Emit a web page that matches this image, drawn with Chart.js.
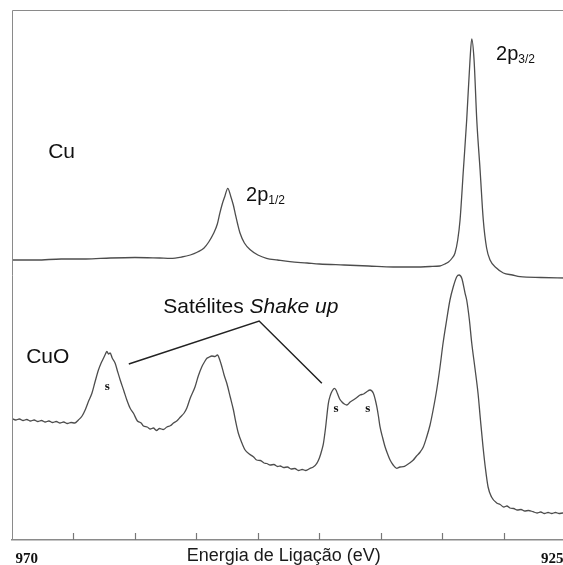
<!DOCTYPE html>
<html lang="pt-BR">
<head>
<meta charset="UTF-8">
<title>XPS Cu 2p - Cu e CuO</title>
<script src="https://cdn.jsdelivr.net/npm/chart.js@4.4.1/dist/chart.umd.min.js"></script>
<style>
  html, body { margin: 0; padding: 0; background: #fff; overflow: hidden; }
  #wrap { width: 580px; height: 565px; }
</style>
</head>
<body>
<div id="wrap"><canvas id="xpsChart" width="580" height="565"></canvas></div>
<script>
// ============================================================================
// DADOS DOS ESPECTROS (energia de ligação em eV, intensidade em u.a.)
// ============================================================================

// Faixa do eixo de energia
const energiaMin = 925;
const energiaMax = 970;

// Cobre metálico (curva superior)
const cuEnergia = [
    970, 968, 966, 964, 962, 960, 958, 957.1, 956.2, 955.5,
    954.9, 954.4, 954.0, 953.6, 953.3, 953.1, 952.9, 952.7, 952.45, 952.2,
    952.0, 951.85, 951.65, 951.45, 951.1, 950.6, 950.0, 949.3, 948.4, 947.4,
    946, 945, 943, 941, 939, 937, 936, 935.2, 934.8, 934.5,
    934.2, 933.97, 933.75, 933.56, 933.29, 933.02, 932.75, 932.61, 932.42, 932.2,
    931.93, 931.67, 931.4, 931.12, 930.6, 930.04, 929.3, 928.68, 927, 925
];
const cuIntensidade = [
    280, 280, 281, 281, 282, 282.5, 282, 281.7, 283, 285,
    288, 291.7, 298, 306.7, 316, 326.7, 336, 343.3, 351.7, 343.3,
    335, 326.7, 316, 306.7, 297, 290, 285, 281.7, 280, 278.3,
    277, 276, 275, 274, 273, 273, 273.5, 274, 276, 278,
    282, 287, 300, 320, 370, 420, 480, 501, 480, 420,
    370, 320, 292, 280, 272, 267, 265, 263.3, 262.5, 262
];

// Óxido de cobre (curva inferior, com satélites shake up)
const cuoEnergia = [
    970, 969.7, 969.4, 969.1, 968.8, 968.5, 968.2, 967.9, 967.6, 967.3,
    967.0, 966.7, 966.4, 966.1, 965.8, 965.5, 965.2, 964.9, 964.6, 964.3,
    964.05, 963.8, 963.5, 963.25, 962.97, 962.75, 962.56, 962.4, 962.28, 962.15,
    962.02, 961.85, 961.61, 961.4, 961.2, 960.9, 960.66, 960.4, 960.12, 959.8,
    959.5, 959.31, 959.0, 958.75, 958.5, 958.25, 958.0, 957.7, 957.4, 957.1,
    956.87, 956.6, 956.3, 956.0, 955.78, 955.5, 955.11, 954.85, 954.56, 954.35,
    954.15, 953.95, 953.75, 953.5, 953.29, 953.1, 952.93, 952.75, 952.53, 952.25,
    951.99, 951.8, 951.59, 951.3, 951.04, 950.7, 950.37, 950.1, 949.8, 949.5,
    949.28, 949.0, 948.7, 948.4, 948.19, 947.9, 947.6, 947.3, 947.0, 946.7,
    946.4, 946.1, 945.76, 945.5, 945.21, 945.0, 944.8, 944.67, 944.5, 944.27,
    944.1, 943.99, 943.78, 943.65, 943.54, 943.35, 943.18, 942.97, 942.77, 942.5,
    942.24, 941.95, 941.69, 941.4, 941.15, 940.88, 940.61, 940.45, 940.33, 940.2,
    940.07, 939.85, 939.66, 939.45, 939.25, 939.0, 938.71, 938.45, 938.17, 937.9,
    937.6, 937.36, 937.1, 936.8, 936.54, 936.3, 936.0, 935.75, 935.46, 935.2,
    934.94, 934.65, 934.38, 934.11, 933.83, 933.64, 933.42, 933.15, 933.02, 932.8,
    932.61, 932.35, 932.1, 931.9, 931.69, 931.5, 931.28, 931.0, 930.58, 930.3,
    930.0, 929.75, 929.5, 929.2, 928.9, 928.6, 928.3, 928.0, 927.63, 927.3,
    927.0, 926.7, 926.4, 926.1, 925.8, 925.5, 925.2, 925.0
];
const cuoIntensidade = [
    121.5, 120, 121, 119.5, 120.5, 119, 120, 118.5, 119.5, 118,
    119, 117.5, 118.5, 117, 118, 116.5, 117.5, 117, 120, 124,
    130, 138, 146.7, 158, 170, 177, 181.7, 186, 188.5, 186,
    187, 182, 176.7, 168, 160, 149, 140, 132, 126.7, 119,
    117, 114, 113, 111, 112, 109.5, 111.5, 110.5, 113, 114.5,
    117, 119, 123, 127, 132, 142, 153.3, 164, 173.3, 178,
    181.7, 183, 184, 183.5, 185, 180, 173.3, 165, 156.7, 143,
    130, 118, 106.7, 97, 90, 86, 83.3, 80, 79.5, 77,
    76.5, 75, 75.5, 73.5, 74, 72.5, 73, 71, 71.5, 69.5,
    70.5, 69.5, 71.7, 73, 76.7, 82, 90, 96.7, 112, 136.7,
    145, 148.3, 151.7, 150, 146.7, 141, 138.3, 136, 135, 138,
    140, 142.5, 145, 146, 148.3, 150, 146.7, 140, 133.3, 124,
    113.3, 102, 93.3, 86, 80, 75, 71.7, 73, 73.3, 75,
    77.5, 80, 84, 88, 93.3, 102, 115, 130, 150, 172,
    197, 220, 240, 253.3, 263.3, 265, 261.7, 246.7, 240, 220,
    197, 172, 147, 120, 93, 72, 53, 43, 37, 35.5,
    33, 34, 32, 31.5, 30, 30.5, 29, 29.5, 28.3, 27,
    28, 26.5, 27.5, 26.5, 27.5, 26.5, 27, 27
];

// Junta energia e intensidade em pontos {x, y}
function pontos(energias, valores) {
    return energias.map((e, i) => ({ x: e, y: valores[i] }));
}

// ============================================================================
// PLUGIN: moldura, marcas do eixo e anotações de texto
// ============================================================================
const anotacoes = {
    id: 'anotacoes',
    afterDatasetsDraw(chart) {
        const { ctx, chartArea: a, scales } = chart;
        const px = e => scales.x.getPixelForValue(e);
        const py = v => scales.y.getPixelForValue(v);
        ctx.save();

        // Moldura esquerda e superior
        ctx.strokeStyle = '#8a8a8a';
        ctx.lineWidth = 1;
        ctx.beginPath();
        ctx.moveTo(a.left + 0.5, a.bottom);
        ctx.lineTo(a.left + 0.5, a.top + 0.5);
        ctx.lineTo(a.right, a.top + 0.5);
        ctx.stroke();

        // Marcas internas do eixo x (a cada 5 eV) e rótulos das extremidades
        ctx.strokeStyle = '#777';
        ctx.lineWidth = 1.2;
        ctx.fillStyle = '#111';
        ctx.font = 'bold 15px "Liberation Serif", "Times New Roman", serif';
        ctx.textBaseline = 'alphabetic';
        scales.x.ticks.forEach(t => {
            const xp = Math.round(px(t.value)) + 0.5;
            if (t.value === energiaMax) {
                ctx.textAlign = 'left';
                ctx.fillText(String(t.value), xp + 3, a.bottom + 23);
                return;
            }
            if (t.value === energiaMin) {
                ctx.textAlign = 'right';
                ctx.fillText(String(t.value), xp - 2, a.bottom + 23);
                return;
            }
            ctx.beginPath();
            ctx.moveTo(xp, a.bottom);
            ctx.lineTo(xp, a.bottom - 7);
            ctx.stroke();
        });

        // Linhas indicando os satélites
        ctx.strokeStyle = '#222';
        ctx.lineWidth = 1.5;
        ctx.beginPath();
        ctx.moveTo(px(960.5), py(176));
        ctx.lineTo(px(949.9), py(219));
        ctx.lineTo(px(944.8), py(156.7));
        ctx.stroke();

        // Rótulos das curvas
        ctx.fillStyle = '#111';
        ctx.textAlign = 'left';
        ctx.textBaseline = 'alphabetic';
        const sans = '"Liberation Sans", Arial, sans-serif';
        ctx.font = '21px ' + sans;
        ctx.fillText('Cu', px(967.06), py(382));
        ctx.fillText('CuO', px(968.85), py(177));

        // Picos 2p com subscrito
        const rotuloPico = (txt, sub, e, v) => {
            ctx.font = '20px ' + sans;
            const x0 = px(e);
            ctx.fillText(txt, x0, py(v));
            const w = ctx.measureText(txt).width;
            ctx.font = '12px ' + sans;
            ctx.fillText(sub, x0 + w, py(v) + 3);
        };
        rotuloPico('2p', '1/2', 950.96, 339);
        rotuloPico('2p', '3/2', 930.63, 480);

        // Satélites Shake up
        ctx.font = '21px ' + sans;
        const xs = px(957.7);
        ctx.fillText('Satélites ', xs, py(227));
        const ws = ctx.measureText('Satélites ').width;
        ctx.font = 'italic 21px ' + sans;
        ctx.fillText('Shake up', xs + ws, py(227));

        // Marcadores "s" dos satélites
        ctx.font = 'bold 13px "Liberation Serif", "Times New Roman", serif';
        ctx.textAlign = 'center';
        ctx.textBaseline = 'middle';
        [[962.25, 153], [943.64, 131], [941.07, 131]].forEach(([e, v]) => {
            ctx.fillText('s', px(e), py(v));
        });

        // Título do eixo x
        ctx.font = '18px ' + sans;
        ctx.fillStyle = '#1a1a1a';
        ctx.textBaseline = 'alphabetic';
        ctx.fillText('Energia de Ligação (eV)', px(947.9), a.bottom + 21);

        ctx.restore();
    }
};

// ============================================================================
// GRÁFICO
// ============================================================================
const canvas = document.getElementById('xpsChart');
const estiloCurva = {
    borderColor: '#4d4d4d',
    borderWidth: 1.3,
    pointRadius: 0,
    fill: false,
    cubicInterpolationMode: 'monotone'
};

new Chart(canvas.getContext('2d'), {
    type: 'line',
    data: {
        datasets: [
            { label: 'Cu', data: pontos(cuEnergia, cuIntensidade), ...estiloCurva },
            { label: 'CuO', data: pontos(cuoEnergia, cuoIntensidade), ...estiloCurva }
        ]
    },
    options: {
        responsive: false,
        animation: false,
        devicePixelRatio: 1,
        layout: { padding: { left: 12, right: 14.7, top: 10, bottom: 0 } },
        plugins: {
            legend: { display: false },
            tooltip: { enabled: false }
        },
        scales: {
            x: {
                type: 'linear',
                reverse: true,
                min: energiaMin,
                max: energiaMax,
                afterFit: s => { s.height = 25; },
                grid: { display: false },
                border: { display: true, color: '#8a8a8a', width: 1.5 },
                ticks: { stepSize: 5, autoSkip: false, display: false }
            },
            y: {
                display: false,
                min: 0,
                max: 530
            }
        }
    },
    plugins: [anotacoes]
});
</script>
</body>
</html>
